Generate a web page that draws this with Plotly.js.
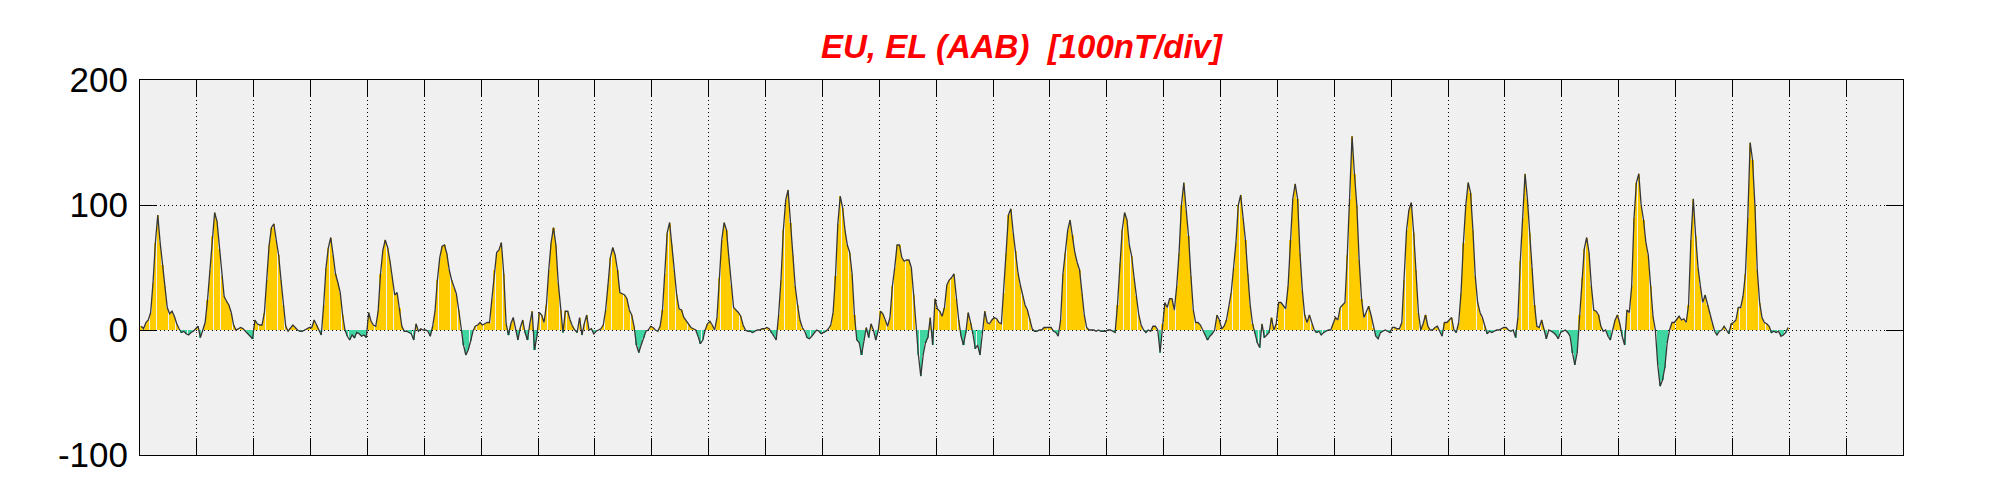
<!DOCTYPE html>
<html>
<head>
<meta charset="utf-8">
<script src="https://cdn.plot.ly/plotly-3.0.1.min.js"></script>
<style>
  html, body { margin: 0; padding: 0; background: #ffffff; }
  #chart { width: 2001px; height: 500px; }
</style>
</head>
<body>
<div id="chart"></div>
<script>
// Hourly values (nT) for each day
const day00 = [3,1,6,8,14,38,70,92,70,52,35,18,13,15,11,5,1,-2,-1,-3,-4,-2,-1,1];
const day01 = [3,-6,0,6,24,48,75,94,87,65,43,27,23,20,14,4,0,1,2,1,-1,-3,-5,-7];
const day02 = [8,5,4,4,14,40,68,82,85,72,60,40,20,3,-1,2,4,2,0,-1,-1,0,1,2];
const day03 = [2,8,4,0,-4,20,50,66,74,60,45,38,30,12,0,-5,-8,-4,-6,-2,-3,-5,-4,-6];
const day04 = [14,7,4,3,15,45,64,72,66,55,43,28,30,18,3,-1,-1,-2,-3,-8,5,-1,1,0];
const day05 = [0,-1,-5,3,15,40,58,67,68,61,48,40,34,29,16,0,-12,-20,-16,-9,-1,3,4,6];
const day06 = [4,5,6,6,25,48,62,64,70,45,5,-4,5,10,0,-8,2,8,-2,-8,5,15,-16,-5];
const day07 = [14,12,6,20,48,70,82,68,38,16,-2,15,15,8,3,0,-2,10,-4,5,12,0,1,-3];
const day08 = [-1,0,1,4,16,36,58,66,60,48,30,29,28,25,16,12,3,-12,-18,-12,-6,-1,0,3];
const day09 = [2,0,-1,3,16,45,78,86,68,48,28,17,16,10,7,4,2,1,0,-5,-11,-8,0,5];
const day10 = [7,4,0,10,42,72,86,80,58,36,18,16,14,11,4,0,-1,-1,-2,-1,0,0,1,1];
const day11 = [2,1,-2,-5,-8,12,40,80,104,112,86,60,35,20,8,2,-1,-6,-7,-5,-2,0,-1,-3];
const day12 = [-2,-1,1,4,14,43,85,107,98,80,68,62,45,12,-8,-10,-20,-8,2,-6,5,0,-8,-1];
const day13 = [15,13,8,3,10,35,50,68,68,58,55,56,56,50,28,0,-20,-37,-20,-10,-6,10,-12,25];
const day14 = [17,15,11,18,36,40,42,45,25,8,-5,-12,-2,14,6,-3,-15,-12,-20,-3,15,6,5,8];
const day15 = [10,9,6,5,30,62,92,97,78,63,46,36,27,20,16,9,1,-1,-1,0,0,2,2,2];
const day16 = [2,-1,-2,-5,8,45,62,80,88,76,62,54,48,30,12,2,0,0,0,-1,0,-1,-1,-1];
const day17 = [0,0,-1,-2,20,54,80,94,88,68,59,42,27,12,4,0,-2,0,-1,3,3,0,-18,5];
const day18 = [22,18,25,25,16,35,62,100,118,96,75,43,16,6,6,4,0,-4,-8,-5,-3,0,12,8];
const day19 = [1,3,8,19,30,50,70,100,108,90,72,45,20,5,-3,-10,-14,5,-6,-4,-2,10,0,5];
const day20 = [22,22,19,17,35,72,105,117,105,62,32,12,6,12,5,0,-2,-1,-4,-2,-1,0,0,5];
const day21 = [10,8,18,20,22,60,105,155,125,100,56,25,10,14,19,12,2,-5,-7,-2,-1,0,-1,-2];
const day22 = [2,2,1,1,6,40,80,96,102,78,48,14,0,5,12,3,0,0,2,3,-1,-5,6,6];
const day23 = [8,10,0,-2,6,30,70,100,118,110,80,43,22,14,10,3,-3,-1,-2,-1,0,0,1,2];
const day24 = [2,0,-1,0,-6,10,55,90,125,105,78,50,20,3,2,8,1,-7,0,-1,-2,-4,-7,-2];
const day25 = [-1,0,-2,-5,-18,-28,-18,12,42,65,74,62,35,16,15,12,3,-1,0,-5,-8,0,8,12];
const day26 = [5,-5,-12,16,14,35,90,118,125,100,88,70,60,35,11,0,-28,-45,-40,-30,-10,0,6,6];
const day27 = [9,11,8,9,6,20,72,105,75,50,35,22,28,20,12,6,-1,-4,-1,0,3,0,-3,5];
const day28 = [6,8,18,18,27,45,90,150,136,100,48,22,10,6,5,3,-2,-1,-2,-1,-5,-4,-2,2];

const days = [day00,day01,day02,day03,day04,day05,day06,day07,day08,day09,
              day10,day11,day12,day13,day14,day15,day16,day17,day18,day19,
              day20,day21,day22,day23,day24,day25,day26,day27,day28];

const monthDays = 31;
const hoursPerDay = 24;
const yTickVals = [-100, 0, 100, 200];
const yTickText = ['-100', '0', '100', '200'];
const titleText = 'EU, EL (AAB)\u00A0 [100nT/div]';

// Build series
const xs = [], ys = [];
days.forEach((d, di) => {
  d.forEach((v, h) => { xs.push(di * hoursPerDay + h + 0.5); ys.push(v); });
});
const barColors = ys.map(v => v >= 0 ? '#FFCC00' : '#3FD6A2');
const dayTicks = [];
for (let k = 0; k <= monthDays; k++) dayTicks.push(k * hoursPerDay);

const traces = [
  {
    type: 'bar', x: xs, y: ys, width: 0.9,
    marker: { color: barColors, line: { width: 0 } },
    hoverinfo: 'skip', showlegend: false
  },
  {
    type: 'scatter', mode: 'lines', x: xs, y: ys,
    line: { color: '#363636', width: 1.3 },
    hoverinfo: 'skip', showlegend: false
  }
];

const layout = {
  width: 2001, height: 500,
  margin: { l: 140, r: 98, t: 80, b: 45 },
  paper_bgcolor: '#ffffff',
  plot_bgcolor: '#f0f0f0',
  bargap: 0,
  title: {
    text: titleText,
    font: { family: 'Liberation Sans, Arial, sans-serif', size: 33, color: '#ff0000', weight: 'bold', style: 'italic' },
    x: 0.5, xref: 'paper', xanchor: 'center',
    y: 1 - 46 / 500, yref: 'container', yanchor: 'middle'
  },
  xaxis: {
    range: [0, monthDays * hoursPerDay],
    tickmode: 'array', tickvals: dayTicks, showticklabels: false,
    ticks: 'inside', ticklen: 17, tickwidth: 1, tickcolor: '#000',
    showline: true, linecolor: '#000', linewidth: 1, mirror: 'ticks',
    showgrid: true, gridcolor: '#000', gridwidth: 1, griddash: '1px,3px',
    zeroline: false, fixedrange: true
  },
  yaxis: {
    range: [-100, 200],
    tickmode: 'array', tickvals: yTickVals, ticktext: yTickText,
    ticks: 'inside', ticklen: 17, tickwidth: 1, tickcolor: '#000',
    showline: true, linecolor: '#000', linewidth: 1, mirror: 'ticks',
    showgrid: true, gridcolor: '#000', gridwidth: 1, griddash: '1px,3px',
    zeroline: false, fixedrange: true,
    tickfont: { family: 'Liberation Sans Narrow, Liberation Sans, Arial, sans-serif', size: 35, color: '#000' },
    ticklabelstandoff: 4
  }
};

Plotly.newPlot('chart', traces, layout, { staticPlot: true, displayModeBar: false });
</script>
</body>
</html>
